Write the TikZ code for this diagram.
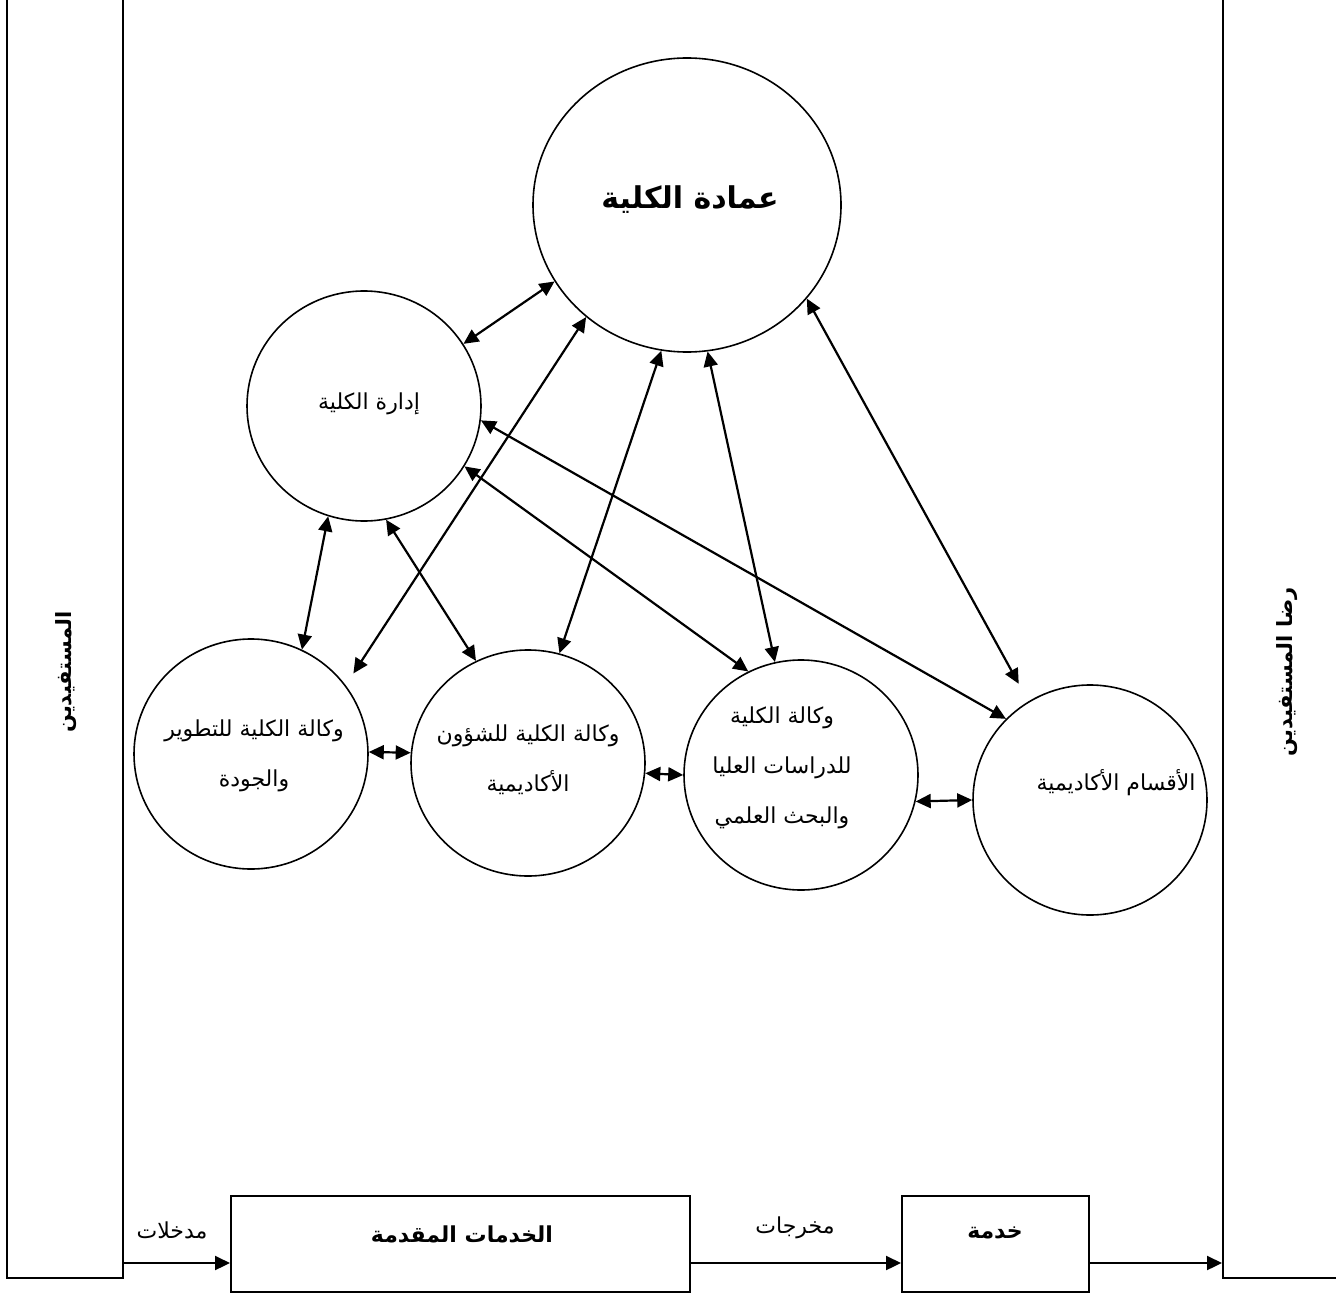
\documentclass[tikz,border=0pt]{standalone}
\usepackage{fontspec}
\usetikzlibrary{shapes.geometric,arrows.meta,calc}
\TeXXeTstate=1
\newfontfamily\arabicfont[Script=Arabic]{DejaVu Sans}
\newcommand\artxt[1]{\beginR #1\endR}
\tikzset{
  circ/.style={ellipse, draw, line width=0.8pt, inner sep=0pt, minimum width=117pt, minimum height=115pt},
  txt/.style={font=\arabicfont\fontsize{11}{25}\selectfont, align=center, inner sep=0pt},
  btxt/.style={font=\arabicfont\bfseries\fontsize{11}{16}\selectfont, inner sep=0pt},
  dtxt/.style={font=\arabicfont\bfseries\fontsize{15}{20}\selectfont, inner sep=0pt},
  stxt/.style={font=\arabicfont\bfseries\fontsize{10.5}{14}\selectfont, inner sep=0pt, rotate=90},
  bar/.style={rectangle, draw, line width=1pt, inner sep=0pt},
  dar/.style={line width=1.1pt, {Triangle[length=7.5pt,width=7pt]}-{Triangle[length=7.5pt,width=7pt]}},
  sar/.style={line width=1.1pt, -{Triangle[length=7.5pt,width=7pt]}}
}
\begin{document}
\begin{tikzpicture}[x=0.5pt, y=-0.5pt]
\useasboundingbox (0,0) rectangle (1336,1294);
% side bars
\node[bar, minimum width=58pt, minimum height=649pt] (L) at (65,629) {};
\node[bar, minimum width=63.5pt, minimum height=649pt] (R) at (1286.5,629) {};
\node[stxt] (Lt) at (66,672) {\artxt{المستفيدين}};
\node[stxt] (Rt) at (1287,672) {\artxt{رضا المستفيدين}};
% circles
\node[circ, minimum width=154pt, minimum height=147pt] (D) at (687,205) {};
\node[dtxt] (Dt) at (690,200) {\artxt{عمادة الكلية}};
\node[circ] (A) at (364,406) {};
\node[txt] (At) at (369,404) {\artxt{إدارة الكلية}};
\node[circ] (T) at (251,754) {};
\node[txt] (Tt) at (254,756) {\artxt{وكالة الكلية للتطوير}\\\artxt{والجودة}};
\node[circ, minimum height=113pt] (S) at (528,763) {};
\node[txt] (St) at (528,760) {\artxt{وكالة الكلية للشؤون}\\\artxt{الأكاديمية}};
\node[circ] (G) at (801,775) {};
\node[txt] (Gt) at (782,768) {\artxt{وكالة الكلية}\\\artxt{للدراسات العليا}\\\artxt{والبحث العلمي}};
\node[circ] (K) at (1090,800) {};
\node[txt, anchor=east] (Kt) at (1196,783) {\artxt{الأقسام الأكاديمية}};
% connectors
\draw[dar] (D.210) -- (A.32);
\draw[dar, shorten >=7pt] (D.228) -- (T.36);
\draw[dar] (D.260) -- (S.74);
\draw[dar] (D.278) -- (G.103);
\draw[dar, shorten >=10pt] (D.322) -- (K.122);
\draw[dar] (A.353) -- (K.136);
\draw[dar] (A.329) -- (G.117);
\draw[dar] (A.252) -- (T.64);
\draw[dar] (A.281) -- (S.117);
\draw[dar] (T.1) -- (S.175);
\draw[dar] (S.355) -- (G.180);
\draw[dar] (G.347) -- (K.180);
% bottom flow
\node[bar, minimum width=229.5pt, minimum height=48pt] (B1) at (460.5,1244) {};
\node[btxt] (B1t) at (462,1234) {\artxt{الخدمات المقدمة}};
\node[bar, minimum width=93.5pt, minimum height=48pt] (B2) at (995.5,1244) {};
\node[btxt] (B2t) at (995,1233) {\artxt{خدمة}};
\node[txt] (in) at (172,1230) {\artxt{مدخلات}};
\node[txt] (out) at (795,1228) {\artxt{مخرجات}};
\coordinate (ya) at (0,1263);
\draw[sar] (L.east |- ya) -- (B1.west |- ya);
\draw[sar] (B1.east |- ya) -- (B2.west |- ya);
\draw[sar] (B2.east |- ya) -- (R.west |- ya);
\end{tikzpicture}
\end{document}
